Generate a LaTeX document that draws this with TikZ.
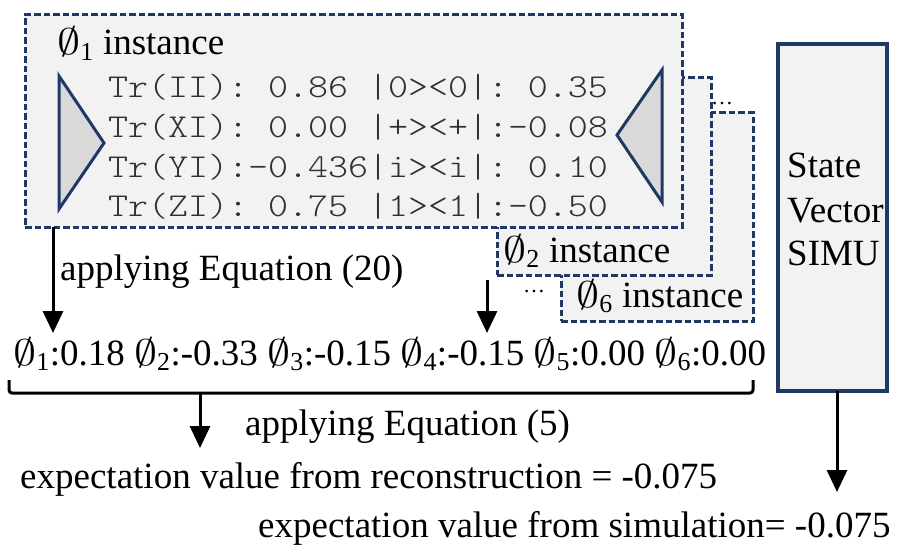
\RequirePackage{fix-cm}
\documentclass[tikz,border=0pt]{standalone}
\usepackage{fontspec}
\setmainfont{Liberation Serif}
\setmonofont[Extension=.otf,FakeStretch=1.14]{lmmonolt10-regular}
\usetikzlibrary{arrows.meta}
\definecolor{navy}{HTML}{1F3864}
\definecolor{boxfill}{HTML}{F2F2F2}
\definecolor{trifill}{HTML}{D9D9D9}
\definecolor{monotext}{HTML}{303030}
\newcommand{\phisym}[1]{\scalebox{1.25}[1]{$\emptyset$}\textsubscript{#1}}
\begin{document}
\begin{tikzpicture}[x=1pt,y=-1pt,
  dbox/.style={draw=navy, fill=boxfill, line width=3pt, dash pattern=on 6.5pt off 3pt, outer sep=0pt, inner sep=0pt, anchor=north west},
  sbox/.style={draw=navy, fill=boxfill, line width=3.5pt, outer sep=0pt, inner sep=0pt, anchor=north west},
  serif/.style={font=\fontsize{37}{41}\selectfont, inner sep=0pt, anchor=base west},
  mono/.style={font=\fontsize{33.4}{39}\selectfont\ttfamily, text=monotext, inner sep=0pt, anchor=base west},
  dots/.style={font=\fontsize{22}{22}\selectfont, inner sep=0pt, anchor=base},
  arr/.style={line width=3pt, -{Triangle[length=22pt,width=20pt]}},
  tri/.style={draw=navy, fill=trifill, line width=3pt, line join=miter}]
\useasboundingbox (0,0) rectangle (901,556);
% instance boxes (back to front)
\node[dbox, minimum width=192pt, minimum height=208pt] (b6) at (561,113) {};
\node[dbox, minimum width=214pt, minimum height=197pt] (b2) at (497,78) {};
\node[dbox, minimum width=657pt, minimum height=212pt] (b1) at (25,15) {};
% triangles
\draw[tri] (59,76) -- (59,209) -- (104,143) -- cycle;
\draw[tri] (662,70) -- (662,202) -- (617,135) -- cycle;
% texts in box 1
\node[serif] (t1) at (57,55) {\phisym{1} instance};
\node[mono] (m1) at (108,98) {Tr(II): 0.86 |0><0|: 0.35};
\node[mono] (m2) at (108,138) {Tr(XI): 0.00 |+><+|:-0.08};
\node[mono] (m3) at (108,177) {Tr(YI):-0.436|i><i|: 0.10};
\node[mono] (m4) at (108,216) {Tr(ZI): 0.75 |1><1|:-0.50};
% other instances
\node[serif] (t2) at (503,262) {\phisym{2} instance};
\node[serif] (t6) at (576,307) {\phisym{6} instance};
\node[dots] (d1) at (722,105) {\ldots};
\node[dots] (d2) at (534,292) {\ldots};
% state vector box
\node[sbox, minimum width=109pt, minimum height=347pt] (sim) at (778,44) {};
\node[serif] (s1) at (787,177) {State};
\node[serif] (s2) at (787,222) {Vector};
\node[serif] (s3) at (787,265) {SIMU};
% arrows to values
\coordinate (a1e) at (53,333);
\draw[arr] (b1.south -| a1e) -- (a1e);
\node[serif] (eq20) at (60,280) {applying Equation (20)};
\coordinate (a2s) at (487,280);
\coordinate (a2e) at (487,333);
\draw[arr] (a2s) -- (a2e);
% values
\node[serif] (phis) at (13,365) {\phisym{1}:0.18 \phisym{2}:-0.33 \phisym{3}:-0.15 \phisym{4}:-0.15 \phisym{5}:0.00 \phisym{6}:0.00};
% bracket
\coordinate (bl) at (9,380);
\coordinate (br) at (753,380);
\coordinate (bm) at (200,393);
\coordinate (a3e) at (200,448);
\draw[line width=3pt, rounded corners=3pt] (bl) -- (9,393) -- (753,393) -- (br);
\draw[arr] (bm) -- (a3e);
\node[serif] (eq5) at (245,435) {applying Equation (5)};
\node[serif] (rec) at (20,488) {expectation value from reconstruction = -0.075};
% simulation arrow
\coordinate (a4e) at (837,492);
\draw[arr] (sim.south -| a4e) -- (a4e);
\node[serif] (simres) at (258,537) {expectation value from simulation= -0.075};
\end{tikzpicture}
\end{document}
